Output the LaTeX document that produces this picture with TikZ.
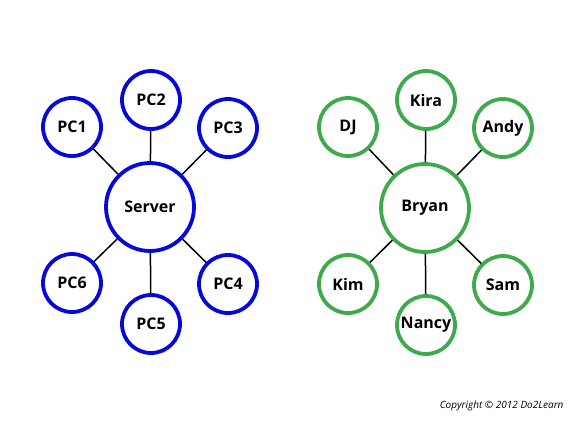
\documentclass[tikz,border=0pt]{standalone}
\usepackage{fontspec}
\setsansfont{Open Sans}
\usepackage{tikz}
\usetikzlibrary{positioning}
\definecolor{netblue}{RGB}{8,8,215}
\definecolor{netgreen}{RGB}{62,170,76}

\begin{document}
\begin{tikzpicture}[
  x=1pt, y=-1pt,
  hub/.style={circle, draw, line width=3.8pt, minimum size=88pt, inner sep=0pt,
              font=\sffamily\bfseries\fontsize{16}{18}\selectfont},
  leaf/.style={circle, draw, line width=3.8pt, minimum size=58pt, inner sep=0pt,
               font=\sffamily\bfseries\fontsize{16}{18}\selectfont},
  link/.style={draw=black, line width=1.5pt}
]
\useasboundingbox (0,0) rectangle (576,432);
% computer network
\node[hub, draw=netblue] (server) at (150,207) {Server};
\node[leaf, draw=netblue] (pc1) at (72,127) {PC1};
\node[leaf, draw=netblue] (pc2) at (151,100) {PC2};
\node[leaf, draw=netblue] (pc3) at (228,128) {PC3};
\node[leaf, draw=netblue] (pc4) at (228,284) {PC4};
\node[leaf, draw=netblue] (pc5) at (151,324) {PC5};
\node[leaf, draw=netblue] (pc6) at (72,283) {PC6};
\draw[link] (server) -- (pc1);
\draw[link] (server) -- (pc2);
\draw[link] (server) -- (pc3);
\draw[link] (server) -- (pc4);
\draw[link] (server) -- (pc5);
\draw[link] (server) -- (pc6);
% social network
\node[hub, draw=netgreen] (bryan) at (425,208) {Bryan};
\node[leaf, draw=netgreen] (dj) at (348,127) {DJ};
\node[leaf, draw=netgreen] (kira) at (426,100) {Kira};
\node[leaf, draw=netgreen] (andy) at (503,128) {Andy};
\node[leaf, draw=netgreen] (sam) at (503,285) {Sam};
\node[leaf, draw=netgreen] (nancy) at (426,325) {Nancy};
\node[leaf, draw=netgreen] (kim) at (348,284) {Kim};
\draw[link] (bryan) -- (dj);
\draw[link] (bryan) -- (kira);
\draw[link] (bryan) -- (andy);
\draw[link] (bryan) -- (sam);
\draw[link] (bryan) -- (nancy);
\draw[link] (bryan) -- (kim);
\node[font=\sffamily\itshape\fontsize{10}{12}\selectfont, anchor=east] (copy) at (567,406) {Copyright \textcopyright\ 2012 Do2Learn};
\end{tikzpicture}
\end{document}
